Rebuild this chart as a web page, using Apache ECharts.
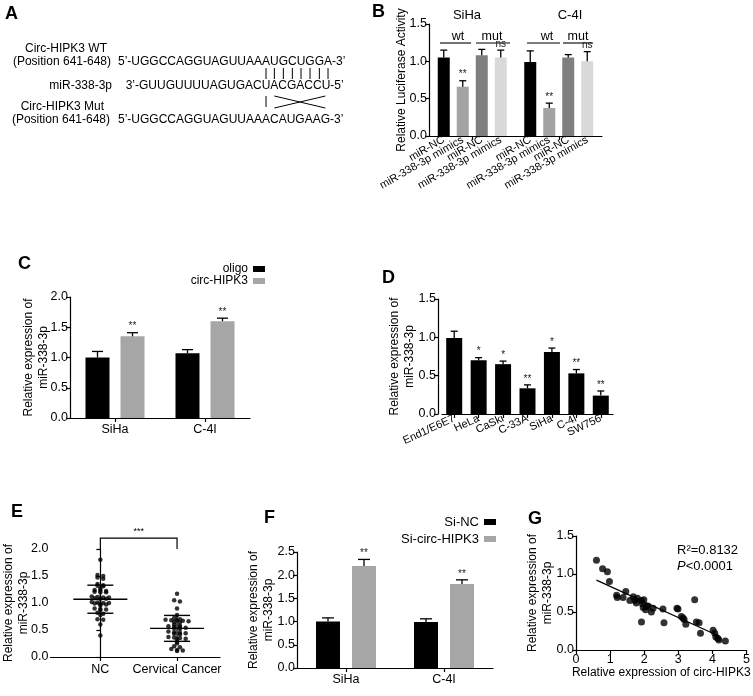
<!DOCTYPE html>
<html><head><meta charset="utf-8">
<script src="https://cdn.jsdelivr.net/npm/echarts@6/dist/echarts.min.js"></script>
<style>html,body{margin:0;padding:0;background:#fff}#c{width:753px;height:696px}</style>
</head><body><div id="c"></div><script>
const FONT = '"Liberation Sans", Arial, Helvetica, sans-serif';

// ---------- Panel A ----------
const aWT  = '5’-UGGCCAGGUAGUUAAAUGCUGGA-3’';
const aMiR = '3’-GUUGUUUUAGUGACUACGACCU-5’';
const aMut = '5’-UGGCCAGGUAGUUAAACAUGAAG-3’';
const aLabels = ['Circ-HIPK3 WT','(Position 641-648)','miR-338-3p','Circ-HIPK3 Mut','(Position 641-648)'];

// ---------- Panel B ----------
const bGroups = ['SiHa','C-4I'];
const bSubGroups = ['wt','mut'];
const bBarLabels = ['miR-NC','miR-338-3p mimics','miR-NC','miR-338-3p mimics'];
const bValues = [[1.05,0.99],[0.66,0.375],[1.08,1.05],[1.05,1.00]];
const bErr    = [[0.10,0.15],[0.08,0.065],[0.08,0.04],[0.10,0.13]];
const bSig    = [['',''],['**','**'],['',''],['ns','ns']];
const bTicks  = [0,0.5,1.0,1.5];

// ---------- Panel C ----------
const cCats = ['SiHa','C-4I'];
const cSeries = ['oligo','circ-HIPK3'];
const cValues = [[1.00,1.07],[1.35,1.60]];
const cErr    = [[0.10,0.06],[0.06,0.05]];
const cSig    = [['',''],['**','**']];
const cTicks  = [0,0.5,1.0,1.5,2.0];

// ---------- Panel D ----------
const dCats = ['End1/E6E7','HeLa','CaSki','C-33A','SiHa','C-4I','SW756'];
const dValues = [0.99,0.70,0.65,0.335,0.81,0.53,0.24];
const dErr    = [0.09,0.035,0.04,0.045,0.05,0.05,0.06];
const dSig    = ['','*','*','**','*','**','**'];
const dTicks  = [0,0.5,1.0,1.5];

// ---------- Panel E ----------
const eCats = ['NC','Cervical Cancer'];
const eNC = [1.80,1.52,1.50,1.47,1.45,1.35,1.33,1.32,1.31,1.27,1.24,1.23,1.22,1.21,1.20,1.20,
             1.12,1.11,1.10,1.10,1.09,1.08,1.08,1.02,1.01,1.00,1.00,0.99,0.98,0.97,0.96,
             0.90,0.89,0.88,0.87,0.82,0.80,0.78,0.70,0.69,0.60,0.40];
const eCC = [1.17,1.05,1.03,0.90,0.78,0.72,0.70,0.69,0.68,0.68,0.67,0.66,0.65,0.64,
             0.60,0.58,0.57,0.56,0.55,0.54,0.53,0.52,0.47,0.46,0.45,0.44,0.43,0.42,
             0.37,0.36,0.35,0.34,0.33,0.28,0.25,0.20,0.18,0.15,0.13,0.12,0.11];
const eMean = [1.07,0.53];
const eSD   = [0.26,0.24];
const eSig  = '***';
const eTicks = [0,0.5,1.0,1.5,2.0];

// ---------- Panel F ----------
const fCats = ['SiHa','C-4I'];
const fSeries = ['Si-NC','Si-circ-HIPK3'];
const fValues = [[1.00,0.99],[2.20,1.81]];
const fErr    = [[0.08,0.07],[0.14,0.09]];
const fSig    = [['',''],['**','**']];
const fTicks  = [0,0.5,1.0,1.5,2.0,2.5];

// ---------- Panel G ----------
const gX = [0.60,0.78,0.92,0.98,1.19,1.21,1.38,1.46,1.58,1.68,1.73,1.77,1.80,1.92,1.95,1.99,1.97,2.04,2.07,2.11,2.21,2.26,1.92,2.55,2.58,2.96,2.99,3.09,3.14,3.17,3.22,3.48,3.53,3.61,3.65,4.02,4.07,4.10,4.16,4.19,4.38];
const gY = [1.18,1.07,1.03,0.90,0.72,0.69,0.69,0.77,0.65,0.70,0.65,0.62,0.68,0.65,0.61,0.66,0.56,0.53,0.57,0.58,0.50,0.55,0.37,0.54,0.36,0.55,0.54,0.44,0.42,0.40,0.34,0.66,0.37,0.36,0.22,0.26,0.22,0.17,0.15,0.13,0.12];
const gFitX = [0.6,4.2];
const gFitY = [0.92,0.18];
const gXTicks = [0,1,2,3,4,5];
const gYTicks = [0,0.5,1.0,1.5];
const gStats = ['R²=0.8132','<0.0001'];

// ================= layout / style =================
const chart = echarts.init(document.getElementById('c'), null, {renderer:'canvas', width:753, height:696});

const grids = [
  {left:429, top:24,  width:173, height:112}, // B
  {left:70,  top:297, width:180, height:121}, // C
  {left:442, top:299, width:171, height:115}, // D
  {left:50,  top:549, width:170, height:108}, // E
  {left:297, top:552, width:196, height:116}, // F
  {left:576, top:536, width:171, height:114}  // G
];

const AX = {color:'#000', width:1.2};
function yAx(grid, ticks, name, gap, extra) {
  return Object.assign({
    type:'value', gridIndex:grid, min:ticks[0], max:ticks[ticks.length-1], interval:ticks[1]-ticks[0],
    axisLine:{show:true, lineStyle:AX}, axisTick:{show:true, length:4, lineStyle:AX},
    splitLine:{show:false},
    axisLabel:{color:'#000', fontSize:12.5, fontFamily:FONT, margin:2, formatter:v=>v.toFixed(1)},
    name:name, nameLocation:'middle', nameGap:gap, nameMoveOverlap:false,
    nameTextStyle:{color:'#000', fontSize:12, fontFamily:FONT, lineHeight:15, verticalAlign:'middle'}
  }, extra||{});
}
function xCat(grid, cats, extra) {
  return Object.assign({
    type:'category', gridIndex:grid, data:cats,
    axisLine:{show:true, lineStyle:AX}, axisTick:{show:true, length:4, alignWithLabel:true, lineStyle:AX},
    axisLabel:{color:'#000', fontSize:12.5, fontFamily:FONT, margin:5},
    splitLine:{show:false}
  }, extra||{});
}

function errSeries(xi, yi, vals, errs, sigs, shift, cap, sigSize) {
  return {
    type:'custom', xAxisIndex:xi, yAxisIndex:yi, clip:false, silent:true, z:5,
    data: vals.map((v,i)=>[i, v, v+errs[i]]),
    renderItem(params, api){
      const i = params.dataIndex;
      const p0 = api.coord([api.value(0), api.value(1)]);
      const p1 = api.coord([api.value(0), api.value(2)]);
      const x = p0[0] + shift;
      const ch = [
        {type:'line', shape:{x1:x,y1:p0[1],x2:x,y2:p1[1]}, style:{stroke:'#000', lineWidth:1.3}},
        {type:'line', shape:{x1:x-cap,y1:p1[1],x2:x+cap,y2:p1[1]}, style:{stroke:'#000', lineWidth:1.3}}
      ];
      if (sigs[i]) ch.push({type:'text', x:x, y:p1[1]-1, style:{text:sigs[i], fontSize:sigSize, fontFamily:FONT, fill:'#222', align:'center', verticalAlign:'bottom'}});
      return {type:'group', children:ch};
    }
  };
}

const series = [];

// ---- B ----
const bColors = ['#000000','#a3a3a3','#7f7f7f','#d9d9d9'];
const B_W = 12, B_G = 7;
bValues.forEach((vals,k)=>{
  series.push({
    type:'bar', name:'B'+k, xAxisIndex:0, yAxisIndex:0, data:vals, barWidth:B_W, barGap:(B_G/B_W*100)+'%',
    itemStyle:{color:bColors[k]}, silent:true,
    label:{show:true, position:'bottom', distance:3, rotate:30, align:'right', verticalAlign:'middle',
      formatter:bBarLabels[k], fontSize:11, fontFamily:FONT, color:'#000'}
  });
  series.push(errSeries(0,0,vals,bErr[k],bSig[k],(k-1.5)*(B_W+B_G),3.5,10));
});

// ---- C ----
const cColors = ['#000000','#a6a6a6'];
const C_W = 24, C_G = 11;
cValues.forEach((vals,k)=>{
  series.push({type:'bar', name:cSeries[k], xAxisIndex:1, yAxisIndex:1, data:vals, barWidth:C_W, barGap:(C_G/C_W*100)+'%', itemStyle:{color:cColors[k]}, silent:true});
  series.push(errSeries(1,1,vals,cErr[k],cSig[k],(k-0.5)*(C_W+C_G),5.5,10));
});

// ---- D ----
series.push({type:'bar', name:'D', xAxisIndex:2, yAxisIndex:2, data:dValues, barWidth:16, itemStyle:{color:'#000'}, silent:true});
series.push(errSeries(2,2,dValues,dErr,dSig,0,3.5,10));

// ---- E ----
function swarm(vals, center, tol, step){
  const s = vals.slice().sort((a,b)=>b-a), rows=[];
  s.forEach(v=>{const r=rows[rows.length-1]; if(r && r[0]-v<=tol) r.push(v); else rows.push([v]);});
  const out=[]; rows.forEach(r=>r.forEach((v,i)=>out.push([center+(i-(r.length-1)/2)*step, v])));
  return out;
}
series.push({type:'scatter', name:'E-NC', xAxisIndex:3, yAxisIndex:3, data:swarm(eNC,0,0.03,0.075), symbol:'circle', symbolSize:4.5, itemStyle:{color:'#000'}, silent:true});
series.push({type:'scatter', name:'E-CC', xAxisIndex:3, yAxisIndex:3, data:swarm(eCC,1,0.03,0.075), symbol:'circle', symbolSize:4.5, itemStyle:{color:'#000'}, silent:true});
series.push({
  type:'custom', xAxisIndex:3, yAxisIndex:3, clip:false, silent:true, z:6,
  data: eMean.map((m,i)=>[i, m, eSD[i]]),
  renderItem(params, api){
    const i=api.value(0), m=api.value(1), sd=api.value(2);
    const pm=api.coord([i,m]), pu=api.coord([i,m+sd]), pl=api.coord([i,m-sd]);
    const L=(x1,y1,x2,y2)=>({type:'line', shape:{x1,y1,x2,y2}, style:{stroke:'#000', lineWidth:1.4}});
    return {type:'group', children:[
      L(pm[0]-27,pm[1],pm[0]+27,pm[1]), L(pu[0]-13,pu[1],pu[0]+13,pu[1]), L(pl[0]-13,pl[1],pl[0]+13,pl[1]), L(pu[0],pu[1],pl[0],pl[1])
    ]};
  }
});
series.push({
  type:'custom', xAxisIndex:3, yAxisIndex:3, clip:false, silent:true,
  data:[[0,1]],
  renderItem(params, api){
    const a=api.coord([0,2.0]), b=api.coord([1,2.0]), t=api.coord([0,2.2]);
    return {type:'group', children:[
      {type:'polyline', shape:{points:[[a[0],a[1]],[a[0],t[1]],[b[0],t[1]],[b[0],b[1]]]}, style:{stroke:'#000', lineWidth:1.2, fill:null}},
      {type:'text', x:(a[0]+b[0])/2, y:t[1]-2, style:{text:eSig, fontSize:9, fontFamily:FONT, fill:'#000', align:'center', verticalAlign:'bottom'}}
    ]};
  }
});

// ---- F ----
const F_W = 24, F_G = 12;
fValues.forEach((vals,k)=>{
  series.push({type:'bar', name:fSeries[k], xAxisIndex:4, yAxisIndex:4, data:vals, barWidth:F_W, barGap:(F_G/F_W*100)+'%', itemStyle:{color:cColors[k]}, silent:true});
  series.push(errSeries(4,4,vals,fErr[k],fSig[k],(k-0.5)*(F_W+F_G),6,10));
});

// ---- G ----
series.push({type:'scatter', name:'G', xAxisIndex:5, yAxisIndex:5, data:gX.map((x,i)=>[x,gY[i]]), symbol:'circle', symbolSize:7, itemStyle:{color:'#000'}, silent:true});
series.push({type:'line', name:'Gfit', xAxisIndex:5, yAxisIndex:5, data:gFitX.map((x,i)=>[x,gFitY[i]]), showSymbol:false, lineStyle:{color:'#000', width:1.2}, silent:true});

// ================= graphics (panel A + annotations) =================
const mctx = document.createElement('canvas').getContext('2d');
mctx.font = '12px ' + FONT;
const cc = (str, idx, x0) => x0 + mctx.measureText(str.slice(0,idx)).width + mctx.measureText(str[idx]).width/2;
const wtX = 118, mutX = 118;
const miRX = wtX + (cc(aWT,18,0) - cc(aMiR,17,0));
const T = (text,x,y,opt) => ({type:'text', x, y, silent:true, style:Object.assign({text, fontSize:12, fontFamily:FONT, fill:'#000', align:'left', verticalAlign:'middle'}, opt||{})});
const Ln = (x1,y1,x2,y2,w) => ({type:'line', silent:true, shape:{x1,y1,x2,y2}, style:{stroke:'#000', lineWidth:w||1}});
const graphic = [];
[['A',5,14],['B',372,12],['C',18,264],['D',382,278],['E',11,512],['F',264,518],['G',528,519]].forEach(p=>graphic.push(T(p[0],p[1],p[2],{fontSize:18,fontWeight:'bold'})));
graphic.push(T(aLabels[0],107,49,{align:'right'}));
graphic.push(T(aLabels[1],111,62,{align:'right'}));
graphic.push(T(aLabels[2],112,86,{align:'right'}));
graphic.push(T(aLabels[3],104,107,{align:'right'}));
graphic.push(T(aLabels[4],110,120,{align:'right'}));
graphic.push(T(aWT,wtX,62)); graphic.push(T(aMiR,miRX,86)); graphic.push(T(aMut,mutX,120));
for (let i=18;i<=25;i++){ const x=cc(aWT,i,wtX); graphic.push(Ln(x,68,x,79)); }
{ const x=cc(aMut,18,mutX); graphic.push(Ln(x,96,x,107));
  const x1=cc(aMut,19,mutX), x2=cc(aMut,25,mutX);
  graphic.push(Ln(x1,96,x2,108)); graphic.push(Ln(x1,108,x2,96)); }
graphic.push(T(bGroups[0],467,15,{align:'center',fontSize:13}));
graphic.push(T(bGroups[1],570,15,{align:'center',fontSize:13}));
[[458,440,471,0],[492,476,510,1],[547,527,560,0],[578,563,593,1]].forEach(s=>{
  graphic.push(T(bSubGroups[s[3]],s[0],37,{align:'center',fontSize:12.5}));
  graphic.push(Ln(s[1],43,s[2],43,1.1));
});
graphic.push(T(gStats[0],677,550,{fontSize:13}));
graphic.push({type:'text', x:677, y:566, silent:true, style:{text:'{i|P}'+gStats[1], fontSize:13, fontFamily:FONT, fill:'#000', verticalAlign:'middle', rich:{i:{fontStyle:'italic', fontSize:13, fontFamily:FONT}}}});

const option = {
  animation:false,
  backgroundColor:'#fff',
  textStyle:{fontFamily:FONT},
  grid: grids,
  legend: [
    {data:cSeries, orient:'vertical', right:753-265, top:263, align:'right', itemWidth:12, itemHeight:6, itemGap:0, icon:'rect', selectedMode:false, padding:0,
     textStyle:{fontSize:12, fontFamily:FONT, color:'#000', lineHeight:12}},
    {data:fSeries, orient:'vertical', right:753-496, top:515, align:'right', itemWidth:12, itemHeight:6, itemGap:3, icon:'rect', selectedMode:false, padding:0,
     textStyle:{fontSize:13, fontFamily:FONT, color:'#000', lineHeight:14}}
  ],
  xAxis: [
    xCat(0, bGroups, {axisLabel:{show:false}}),
    xCat(1, cCats),
    xCat(2, dCats, {axisLabel:{color:'#000', fontSize:11, fontFamily:FONT, rotate:25, margin:4, interval:0}}),
    {type:'value', gridIndex:3, min:-0.65, max:1.56, splitLine:{show:false},
     axisLine:{show:true, lineStyle:AX}, axisTick:{show:true, length:4, lineStyle:AX, customValues:[0,1]},
     axisLabel:{color:'#000', fontSize:12.5, fontFamily:FONT, margin:6, customValues:[0,1], formatter:v=>eCats[Math.round(v)]}},
    xCat(4, fCats),
    {type:'value', gridIndex:5, min:gXTicks[0], max:gXTicks[gXTicks.length-1], interval:1, splitLine:{show:false},
     axisLine:{show:true, lineStyle:AX}, axisTick:{show:true, length:4, lineStyle:AX},
     axisLabel:{color:'#000', fontSize:12.5, fontFamily:FONT, margin:3},
     name:'Relative expression of circ-HIPK3', nameLocation:'middle', nameGap:17, nameMoveOverlap:false,
     nameTextStyle:{color:'#000', fontSize:12, fontFamily:FONT}}
  ],
  yAxis: [
    yAx(0, bTicks, 'Relative Luciferase Activity', 27),
    yAx(1, cTicks, 'Relative expression of\nmiR-338-3p', 34),
    yAx(2, dTicks, 'Relative expression of\nmiR-338-3p', 36, {offset:4}),
    yAx(3, eTicks, 'Relative expression of\nmiR-338-3p', 34.5),
    yAx(4, fTicks, 'Relative expression of\nmiR-338-3p', 36),
    yAx(5, gYTicks, 'Relative expression of\nmiR-338-3p', 36)
  ],
  series: series,
  graphic: graphic
};
chart.setOption(option);
</script></body></html>
